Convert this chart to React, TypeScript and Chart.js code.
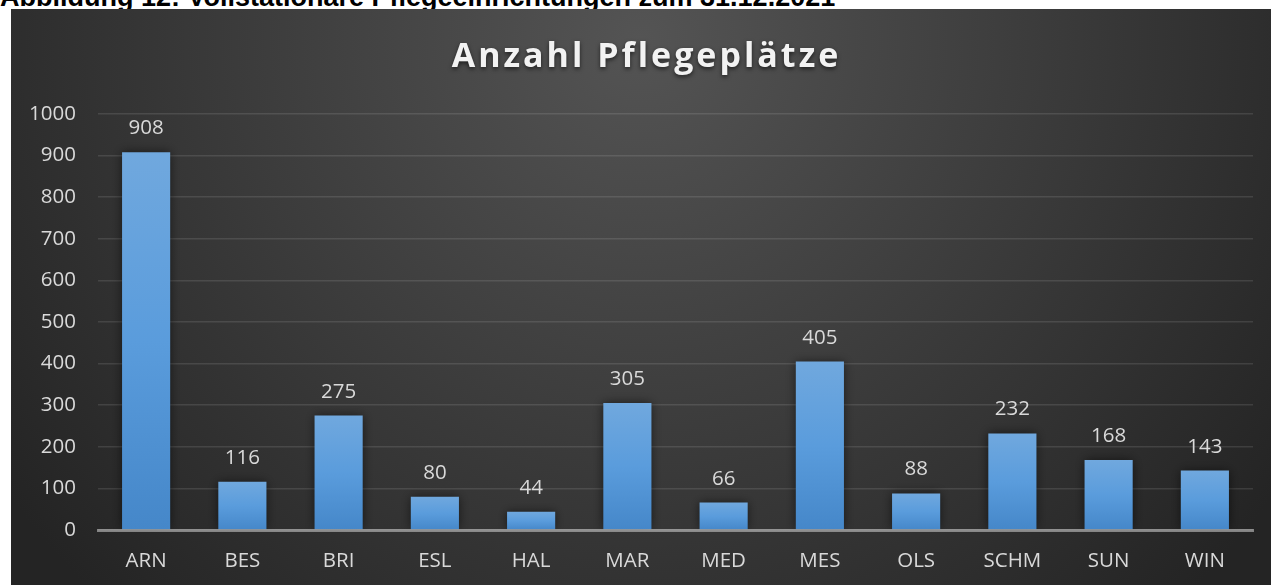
import React, { useEffect, useRef } from "react";
import { Chart, registerables } from "chart.js";

Chart.register(...registerables);

const caption = "Abbildung 12: Vollstationäre Pflegeeinrichtungen zum 31.12.2021";
const chartTitle = "Anzahl Pflegeplätze";
const categories = ["ARN", "BES", "BRI", "ESL", "HAL", "MAR", "MED", "MES", "OLS", "SCHM", "SUN", "WIN"];
const values = [908, 116, 275, 80, 44, 305, 66, 405, 88, 232, 168, 143];
const yMin = 0;
const yMax = 1000;
const yStep = 100;

const FONT = "'Open Sans', 'DejaVu Sans', sans-serif";
const TEXT = "#d9d9d9";
const FS = 20.5;

const backgroundPlugin = {
  id: "bgRadial",
  beforeDraw(chart: any) {
    const { ctx, width, height } = chart;
    ctx.save();
    const g = ctx.createRadialGradient(width * 0.5, 30, 0, width * 0.5, 30, 780);
    g.addColorStop(0, "rgb(84,84,84)");
    g.addColorStop(1, "rgb(36,36,36)");
    ctx.fillStyle = g;
    ctx.fillRect(0, 0, width, height);
    ctx.restore();
  },
};

const titlePlugin = {
  id: "titleSpaced",
  afterDraw(chart: any) {
    const { ctx } = chart;
    ctx.save();
    ctx.font = `bold 34px ${FONT}`;
    (ctx as any).letterSpacing = "3px";
    ctx.fillStyle = "#f2f2f2";
    ctx.textAlign = "left";
    ctx.textBaseline = "alphabetic";
    ctx.shadowColor = "rgba(0,0,0,0.6)";
    ctx.shadowBlur = 4;
    ctx.shadowOffsetY = 2;
    const w = ctx.measureText(chartTitle).width - 3;
    ctx.fillText(chartTitle, 634 - w / 2, 58);
    ctx.restore();
  },
};

const barShadowPlugin = {
  id: "barShadow",
  beforeDatasetsDraw(chart: any) {
    const { ctx } = chart;
    ctx.save();
    ctx.shadowColor = "rgba(0,0,0,0.55)";
    ctx.shadowBlur = 10;
    ctx.shadowOffsetX = 0;
    ctx.shadowOffsetY = 0;
  },
  afterDatasetsDraw(chart: any) {
    const { ctx } = chart;
    ctx.restore();
    ctx.save();
    ctx.font = `${FS}px ${FONT}`;
    ctx.fillStyle = TEXT;
    ctx.textAlign = "center";
    ctx.textBaseline = "alphabetic";
    const meta = chart.getDatasetMeta(0);
    meta.data.forEach((bar: any, i: number) => {
      ctx.fillText(String(values[i]), bar.x, bar.y - 18);
    });
    ctx.restore();
  },
};

export default function App() {
  const ref = useRef<HTMLCanvasElement | null>(null);
  useEffect(() => {
    if (!ref.current) return;
    const chart = new Chart(ref.current, {
      type: "bar",
      data: {
        labels: categories,
        datasets: [
          {
            data: values,
            backgroundColor: (c: any) => {
              const ch = c.chart;
              if (!ch.chartArea || c.type !== "data") return "#5b9bd5";
              const y = ch.scales.y;
              const top = y.getPixelForValue(c.raw);
              const bottom = y.getPixelForValue(0);
              const g = ch.ctx.createLinearGradient(0, top, 0, bottom);
              g.addColorStop(0, "#70a8de");
              g.addColorStop(0.5, "#5a9cdc");
              g.addColorStop(1, "#4587c9");
              return g;
            },
            borderWidth: 0,
            categoryPercentage: 0.5,
            barPercentage: 1,
          },
        ],
      },
      options: {
        responsive: false,
        animation: false,
        devicePixelRatio: 1,
        layout: { padding: { top: 105, right: 18, left: 0, bottom: 0 } },
        plugins: {
          legend: { display: false },
          title: { display: false },
          tooltip: { enabled: false },
        },
        scales: {
          x: {
            grid: { display: false, drawTicks: false },
            border: { display: true, color: "rgba(210,210,210,0.55)", width: 3, z: 1 },
            ticks: { color: TEXT, font: { family: FONT, size: FS }, padding: 19 },
            afterFit: (s: any) => {
              s.height = 55;
            },
          },
          y: {
            min: yMin,
            max: yMax,
            grid: { color: "rgba(255,255,255,0.11)", lineWidth: 1.5, drawTicks: false },
            border: { display: false },
            ticks: {
              stepSize: yStep,
              color: TEXT,
              font: { family: FONT, size: FS },
              padding: 22,
              callback: (v: any) => String(v),
            },
            afterFit: (s: any) => {
              s.width = 87;
            },
          },
        },
      },
      plugins: [backgroundPlugin, barShadowPlugin, titlePlugin],
    });
    return () => chart.destroy();
  }, []);

  return (
    <div
      style={{
        position: "fixed",
        left: 0,
        top: 0,
        width: 1271,
        height: 585,
        overflow: "hidden",
        background: "#ffffff",
      }}
    >
      <div
        style={{
          position: "absolute",
          left: 0,
          top: -16,
          whiteSpace: "nowrap",
          fontFamily: "'Liberation Sans', Arial, sans-serif",
          fontWeight: "bold",
          fontSize: 27,
          lineHeight: "27px",
          color: "#000",
        }}
      >
        {caption}
      </div>
      <canvas
        ref={ref}
        width={1260}
        height={576}
        style={{ position: "absolute", left: 11, top: 9, width: 1260, height: 576 }}
      />
    </div>
  );
}
